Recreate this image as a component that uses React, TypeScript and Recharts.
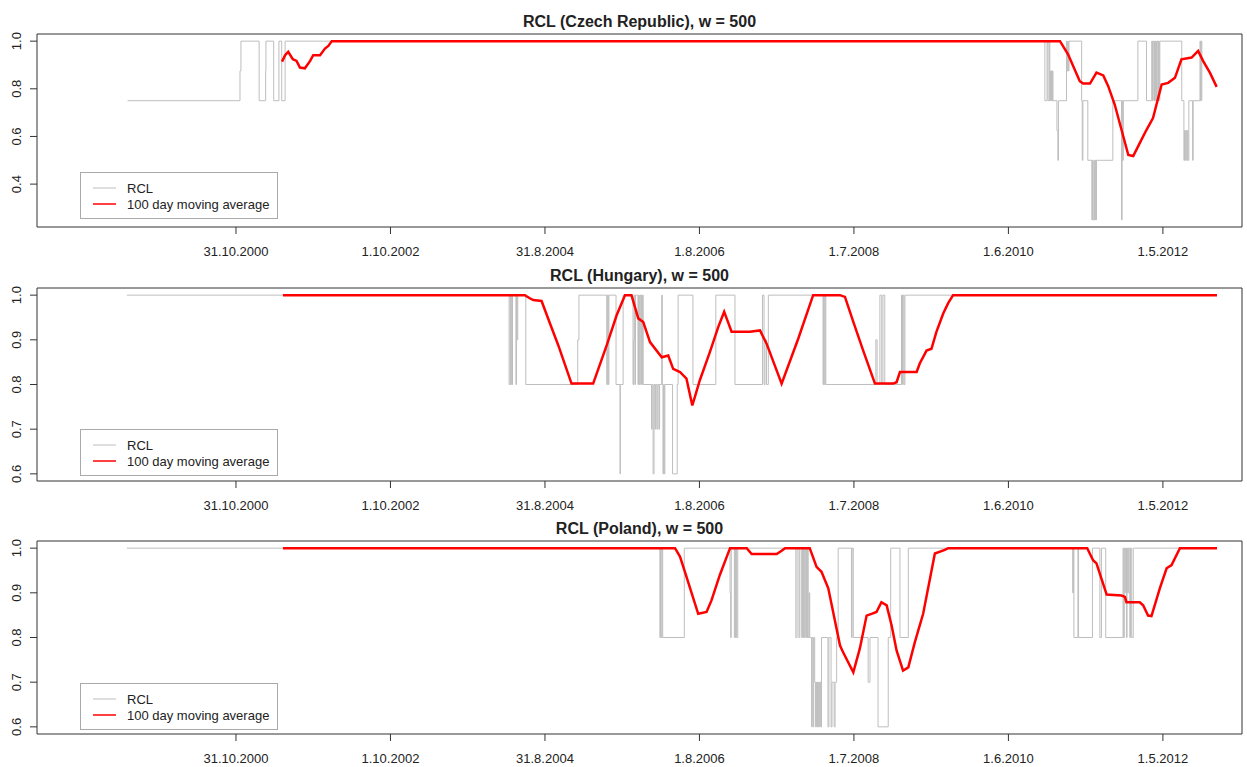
import React from "react";
import { LineChart, Line, XAxis, YAxis, ReferenceArea } from "recharts";

type Pt = [number, number];

// Trading-day index axis, labelled every 500 days with the calendar date
const tickDays = [500, 1000, 1500, 2000, 2500, 3000, 3500];
const tickLabels = ["31.10.2000", "1.10.2002", "31.8.2004", "1.8.2006", "1.7.2008", "1.6.2010", "1.5.2012"];
const dayDomain: [number, number] = [-144, 3756];

// Czech Republic: RCL (step series) and its 100 day moving average
const czGray: Pt[] = [
  [149, 0.75], [513, 0.875], [516, 1], [575, 0.75], [596, 0.875], [597, 1], [622, 0.75], [639, 1], [648, 0.75], [659, 1],
  [3118, 0.75], [3125, 1], [3128, 0.75], [3132, 1], [3134, 0.75], [3136, 0.875], [3137, 0.75], [3139, 0.875], [3141, 0.75],
  [3143, 0.875], [3144, 0.75], [3157, 0.625], [3160, 0.5], [3162, 0.75], [3188, 1], [3190, 0.875], [3192, 1], [3194, 0.875],
  [3196, 1], [3237, 0.75], [3239, 0.5], [3241, 0.75], [3257, 0.5], [3270, 0.25], [3272, 0.5], [3274, 0.25], [3277, 0.5],
  [3279, 0.25], [3281, 0.5], [3283, 0.25], [3285, 0.5], [3338, 0.75], [3366, 0.25], [3368, 0.75], [3370, 0.5], [3372, 0.75],
  [3419, 1], [3447, 0.75], [3464, 1], [3466, 0.75], [3468, 1], [3471, 0.75], [3473, 1], [3475, 0.75], [3477, 1], [3479, 0.75],
  [3481, 1], [3484, 0.75], [3486, 1], [3488, 0.75], [3490, 1], [3561, 0.75], [3568, 0.5], [3570, 0.625], [3572, 0.5],
  [3574, 0.625], [3577, 0.5], [3579, 0.625], [3581, 0.5], [3584, 0.75], [3596, 0.5], [3598, 0.75], [3620, 1], [3622, 0.75],
  [3624, 1], [3626, 0.75],
];
const czMA: Pt[] = [
  [649, 0.914], [659, 0.941], [669, 0.955], [684, 0.924], [696, 0.917], [707, 0.889], [723, 0.886], [740, 0.917],
  [750, 0.941], [772, 0.941], [788, 0.969], [799, 0.98], [810, 1.0], [3167, 1.0], [3193, 0.945], [3231, 0.832],
  [3242, 0.822], [3264, 0.822], [3285, 0.868], [3307, 0.856], [3323, 0.811], [3344, 0.734], [3366, 0.628], [3388, 0.522],
  [3404, 0.518], [3425, 0.572], [3447, 0.628], [3468, 0.677], [3496, 0.818], [3517, 0.825], [3539, 0.846], [3560, 0.924],
  [3593, 0.931], [3614, 0.959], [3630, 0.917], [3652, 0.868], [3674, 0.808],
];

// Hungary
const huGray: Pt[] = [
  [147, 1], [1384, 0.8], [1387, 1], [1389, 0.8], [1391, 1], [1393, 0.8], [1395, 1], [1406, 0.8], [1408, 1], [1410, 0.9],
  [1412, 1], [1438, 0.8], [1606, 0.9], [1610, 1], [1700, 0.8], [1702, 1], [1705, 0.8], [1707, 1], [1730, 0.8], [1743, 0.6],
  [1744, 0.8], [1753, 1], [1785, 0.8], [1787, 0.9], [1789, 1], [1791, 0.8], [1793, 1], [1801, 0.8], [1803, 1], [1805, 0.8],
  [1807, 1], [1810, 0.8], [1812, 1], [1814, 0.8], [1816, 1], [1818, 0.8], [1845, 0.7], [1847, 0.8], [1850, 0.6], [1853, 0.8],
  [1856, 0.7], [1858, 0.8], [1862, 0.7], [1865, 0.8], [1869, 0.7], [1871, 0.8], [1878, 1], [1880, 0.8], [1882, 0.6],
  [1884, 0.8], [1886, 0.6], [1888, 0.8], [1913, 0.6], [1928, 0.8], [1931, 1], [1979, 0.8], [2053, 1], [2115, 0.8],
  [2204, 1], [2209, 0.8], [2212, 0.9], [2217, 0.8], [2223, 1], [2400, 0.8], [2402, 1], [2404, 0.8], [2407, 1], [2409, 0.8],
  [2571, 0.9], [2575, 0.8], [2584, 1], [2590, 0.8], [2594, 1], [2600, 0.8], [2654, 1], [2657, 0.8], [2659, 1], [2662, 0.8],
  [2665, 1], [3675, 1],
];
const huMA: Pt[] = [
  [652, 1.0], [1435, 1.0], [1451, 0.993], [1462, 0.989], [1489, 0.987], [1516, 0.937], [1543, 0.888], [1586, 0.802],
  [1656, 0.802], [1700, 0.888], [1732, 0.955], [1759, 1.0], [1780, 1.0], [1802, 0.948], [1818, 0.94], [1840, 0.895],
  [1878, 0.861], [1899, 0.865], [1915, 0.835], [1937, 0.828], [1958, 0.813], [1977, 0.753], [2001, 0.809], [2034, 0.873],
  [2061, 0.929], [2080, 0.963], [2104, 0.918], [2163, 0.918], [2196, 0.921], [2217, 0.892], [2266, 0.802], [2320, 0.903],
  [2368, 1.0], [2455, 1.0], [2471, 0.996], [2498, 0.94], [2530, 0.876], [2568, 0.802], [2627, 0.802], [2638, 0.805],
  [2649, 0.828], [2703, 0.828], [2713, 0.847], [2735, 0.876], [2751, 0.88], [2767, 0.918], [2789, 0.959], [2805, 0.982],
  [2821, 1.0], [3675, 1.0],
];

// Poland
const plGray: Pt[] = [
  [147, 1], [1872, 0.8], [1874, 1], [1876, 0.8], [1879, 1], [1881, 0.8], [1951, 1], [2099, 0.9], [2101, 0.8], [2103, 1],
  [2113, 0.8], [2115, 1], [2117, 0.8], [2119, 1], [2121, 0.8], [2124, 1], [2312, 0.8], [2316, 1], [2322, 0.8], [2325, 1],
  [2331, 0.8], [2333, 1], [2335, 0.8], [2337, 1], [2339, 0.8], [2341, 1], [2344, 0.8], [2346, 1], [2348, 0.8], [2350, 1],
  [2352, 0.8], [2355, 0.9], [2357, 0.8], [2363, 0.6], [2365, 0.8], [2368, 0.6], [2370, 0.8], [2373, 0.7], [2376, 0.6],
  [2378, 0.7], [2380, 0.6], [2382, 0.7], [2384, 0.6], [2386, 0.7], [2389, 0.6], [2391, 0.7], [2393, 0.6], [2395, 0.8],
  [2416, 0.6], [2419, 0.8], [2426, 0.6], [2429, 0.7], [2436, 0.6], [2439, 0.7], [2444, 0.8], [2449, 1], [2492, 0.8],
  [2494, 1], [2498, 0.8], [2546, 0.7], [2552, 0.8], [2578, 0.6], [2611, 0.8], [2619, 1], [2649, 0.8], [2676, 1],
  [3208, 0.9], [3210, 1], [3212, 0.8], [3225, 1], [3227, 0.8], [3272, 1], [3296, 0.8], [3301, 1], [3315, 0.8], [3371, 1],
  [3373, 0.8], [3375, 1], [3378, 0.9], [3380, 1], [3382, 0.8], [3384, 1], [3386, 0.9], [3389, 1], [3393, 0.8], [3395, 1],
  [3399, 0.8], [3404, 1], [3675, 1],
];
const plMA: Pt[] = [
  [652, 1.0], [1921, 1.0], [1937, 0.981], [1953, 0.947], [1996, 0.853], [2023, 0.857], [2039, 0.883], [2066, 0.94],
  [2099, 1.0], [2153, 1.0], [2169, 0.987], [2250, 0.987], [2266, 0.994], [2277, 1.0], [2357, 1.0], [2379, 0.958],
  [2395, 0.947], [2417, 0.91], [2455, 0.782], [2465, 0.767], [2498, 0.722], [2519, 0.775], [2541, 0.849], [2557, 0.853],
  [2573, 0.857], [2589, 0.879], [2606, 0.872], [2622, 0.827], [2638, 0.771], [2659, 0.726], [2676, 0.733], [2697, 0.789],
  [2724, 0.853], [2762, 0.988], [2794, 0.996], [2805, 1.0], [3255, 1.0], [3274, 0.973], [3285, 0.966], [3318, 0.896],
  [3366, 0.894], [3377, 0.891], [3382, 0.879], [3425, 0.879], [3436, 0.872], [3452, 0.849], [3463, 0.848], [3490, 0.91],
  [3512, 0.955], [3528, 0.962], [3555, 1.0], [3675, 1.0],
];

const panels = [
  { title: "RCL (Czech Republic), w = 500", gray: czGray, ma: czMA, yDomain: [0.22, 1.03] as [number, number], yTicks: [0.4, 0.6, 0.8, 1.0], legendTop: 172 },
  { title: "RCL (Hungary), w = 500", gray: huGray, ma: huMA, yDomain: [0.584, 1.016] as [number, number], yTicks: [0.6, 0.7, 0.8, 0.9, 1.0], legendTop: 175 },
  { title: "RCL (Poland), w = 500", gray: plGray, ma: plMA, yDomain: [0.584, 1.016] as [number, number], yTicks: [0.6, 0.7, 0.8, 0.9, 1.0], legendTop: 176 },
];

const W = 1247;
const H = 260;
const PLOT_LEFT = 37;
const PLOT_RIGHT = 5;
const PLOT_TOP = 34;
const FONT = "'Liberation Sans', Arial, sans-serif";
const TEXT = "#222";

const XTick = (props: any) => {
  const { x, y, payload } = props;
  const i = tickDays.indexOf(payload.value);
  return (
    <text x={x} y={y + 20} textAnchor="middle" fontFamily={FONT} fontSize={13} fill={TEXT}>
      {i >= 0 ? tickLabels[i] : ""}
    </text>
  );
};

const YTick = (props: any) => {
  const { y, payload } = props;
  const bx = 21;
  return (
    <text x={bx} y={y} transform={`rotate(-90 ${bx} ${y})`} textAnchor="middle" fontFamily={FONT} fontSize={13} fill={TEXT}>
      {Number(payload.value).toFixed(1)}
    </text>
  );
};

function Panel({ cfg, top }: { cfg: (typeof panels)[number]; top: number }) {
  const grayData = cfg.gray.map(([t, v]) => ({ t, v }));
  const maData = cfg.ma.map(([t, v]) => ({ t, v }));
  const cx = PLOT_LEFT + (W - PLOT_LEFT - PLOT_RIGHT) / 2;
  const lt = cfg.legendTop;
  return (
    <div style={{ position: "absolute", left: 0, top, width: W, height: H }}>
      <LineChart width={W} height={H} margin={{ top: PLOT_TOP, right: PLOT_RIGHT, bottom: 0, left: 0 }}>
        <XAxis
          type="number"
          dataKey="t"
          domain={dayDomain}
          ticks={tickDays}
          interval={0}
          allowDataOverflow
          height={33}
          tickSize={7}
          axisLine={false}
          tickLine={{ stroke: "#333" }}
          tick={<XTick />}
        />
        <YAxis
          type="number"
          domain={cfg.yDomain}
          ticks={cfg.yTicks}
          interval={0}
          allowDataOverflow
          width={PLOT_LEFT}
          tickSize={7}
          axisLine={false}
          tickLine={{ stroke: "#333" }}
          tick={<YTick />}
        />
        <ReferenceArea
          x1={dayDomain[0]}
          x2={dayDomain[1]}
          y1={cfg.yDomain[0]}
          y2={cfg.yDomain[1]}
          fill="none"
          fillOpacity={0}
          stroke="#333"
          strokeWidth={1}
          ifOverflow="visible"
        />
        <Line data={grayData} dataKey="v" type="stepAfter" stroke="#bebebe" strokeWidth={1} dot={false} activeDot={false} isAnimationActive={false} />
        <Line data={maData} dataKey="v" type="linear" stroke="#ff0000" strokeWidth={2.5} dot={false} activeDot={false} isAnimationActive={false} />
      </LineChart>
      <svg width={W} height={H} style={{ position: "absolute", left: 0, top: 0, pointerEvents: "none" }}>
        <text x={cx} y={27} textAnchor="middle" fontFamily={FONT} fontSize={16} fontWeight="bold" fill={TEXT}>
          {cfg.title}
        </text>
        <rect x={80.5} y={lt + 0.5} width={197} height={46} fill="#fff" stroke="#aaa" strokeWidth={1} />
        <line x1={93} x2={116} y1={lt + 16} y2={lt + 16} stroke="#bebebe" strokeWidth={1} />
        <line x1={93} x2={116} y1={lt + 32} y2={lt + 32} stroke="#ff0000" strokeWidth={1.5} />
        <text x={127} y={lt + 21} fontFamily={FONT} fontSize={13} fill={TEXT}>RCL</text>
        <text x={127} y={lt + 36.5} fontFamily={FONT} fontSize={13} fill={TEXT}>100 day moving average</text>
      </svg>
    </div>
  );
}

export default function App() {
  const tops = [0, 254, 507];
  return (
    <div style={{ position: "absolute", left: 0, top: 0, width: W, height: 767, background: "#fff" }}>
      {panels.map((p, i) => (
        <Panel key={p.title} cfg={p} top={tops[i]} />
      ))}
    </div>
  );
}
